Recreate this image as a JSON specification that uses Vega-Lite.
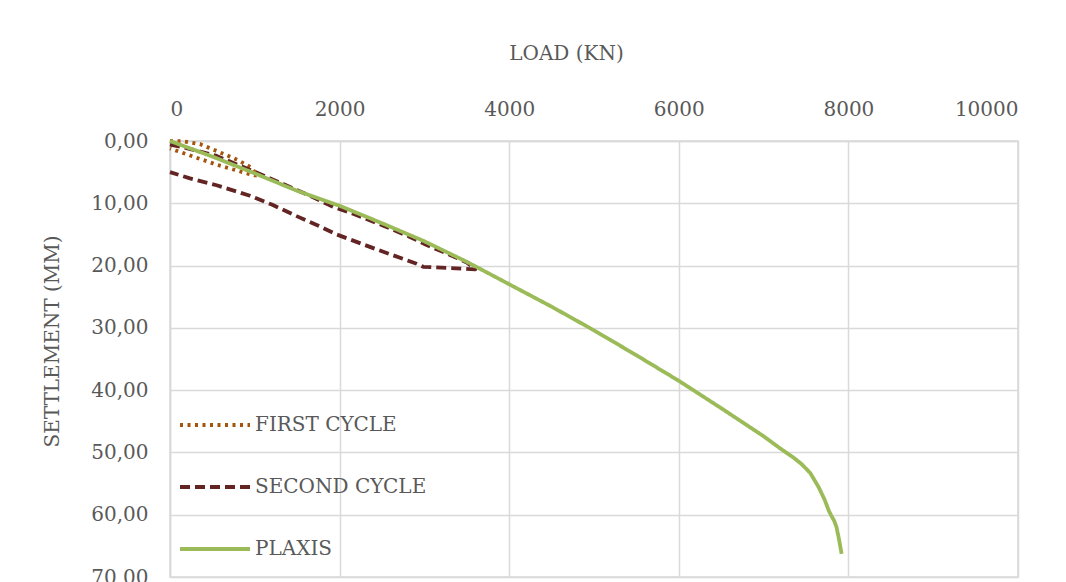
{
  "$schema": "https://vega.github.io/schema/vega-lite/v6.json",
  "width": 848,
  "height": 436,
  "autosize": {"type": "none"},
  "padding": {"left": 170, "top": 141, "right": 48, "bottom": 5},
  "background": "white",
  "config": {
    "font": "DejaVu Serif",
    "view": {"stroke": "#d9d9d9", "strokeWidth": 1.5},
    "axis": {
      "grid": true,
      "gridColor": "#d9d9d9",
      "gridWidth": 1.5,
      "domainColor": "#d9d9d9",
      "domainWidth": 1.5,
      "ticks": false,
      "tickSize": 0,
      "labelFont": "DejaVu Serif",
      "labelFontSize": 20,
      "labelColor": "#595959",
      "titleFont": "DejaVu Serif",
      "titleFontSize": 20,
      "titleFontWeight": "normal",
      "titleColor": "#595959"
    }
  },
  "data": {
    "values": [
      {"series": "FIRST CYCLE", "i": 1, "load": 0, "settlement": 0},
      {"series": "FIRST CYCLE", "i": 2, "load": 160, "settlement": 0.05},
      {"series": "FIRST CYCLE", "i": 3, "load": 354, "settlement": 0.5},
      {"series": "FIRST CYCLE", "i": 4, "load": 550, "settlement": 1.6},
      {"series": "FIRST CYCLE", "i": 5, "load": 806, "settlement": 3.1},
      {"series": "FIRST CYCLE", "i": 6, "load": 963, "settlement": 4.3},
      {"series": "FIRST CYCLE", "i": 7, "load": 1030, "settlement": 5.6},
      {"series": "FIRST CYCLE", "i": 8, "load": 904, "settlement": 5.2},
      {"series": "FIRST CYCLE", "i": 9, "load": 550, "settlement": 3.8},
      {"series": "FIRST CYCLE", "i": 10, "load": 275, "settlement": 2.5},
      {"series": "FIRST CYCLE", "i": 11, "load": 20, "settlement": 1.3},
      {"series": "FIRST CYCLE", "i": 12, "load": 0, "settlement": 1.2},

      {"series": "SECOND CYCLE", "i": 1, "load": 0, "settlement": 0.6},
      {"series": "SECOND CYCLE", "i": 2, "load": 157, "settlement": 1.0},
      {"series": "SECOND CYCLE", "i": 3, "load": 550, "settlement": 2.4},
      {"series": "SECOND CYCLE", "i": 4, "load": 1061, "settlement": 5.3},
      {"series": "SECOND CYCLE", "i": 5, "load": 1336, "settlement": 6.9},
      {"series": "SECOND CYCLE", "i": 6, "load": 1651, "settlement": 8.8},
      {"series": "SECOND CYCLE", "i": 7, "load": 1926, "settlement": 10.6},
      {"series": "SECOND CYCLE", "i": 8, "load": 2123, "settlement": 11.5},
      {"series": "SECOND CYCLE", "i": 9, "load": 2516, "settlement": 13.6},
      {"series": "SECOND CYCLE", "i": 10, "load": 2830, "settlement": 15.4},
      {"series": "SECOND CYCLE", "i": 11, "load": 3027, "settlement": 16.7},
      {"series": "SECOND CYCLE", "i": 12, "load": 3302, "settlement": 18.3},
      {"series": "SECOND CYCLE", "i": 13, "load": 3500, "settlement": 19.5},
      {"series": "SECOND CYCLE", "i": 14, "load": 3600, "settlement": 20.6},
      {"series": "SECOND CYCLE", "i": 15, "load": 3302, "settlement": 20.4},
      {"series": "SECOND CYCLE", "i": 16, "load": 2987, "settlement": 20.2},
      {"series": "SECOND CYCLE", "i": 17, "load": 2909, "settlement": 19.7},
      {"series": "SECOND CYCLE", "i": 18, "load": 2437, "settlement": 17.4},
      {"series": "SECOND CYCLE", "i": 19, "load": 1965, "settlement": 15.0},
      {"series": "SECOND CYCLE", "i": 20, "load": 1750, "settlement": 13.6},
      {"series": "SECOND CYCLE", "i": 21, "load": 1500, "settlement": 12.1},
      {"series": "SECOND CYCLE", "i": 22, "load": 1200, "settlement": 10.2},
      {"series": "SECOND CYCLE", "i": 23, "load": 943, "settlement": 8.8},
      {"series": "SECOND CYCLE", "i": 24, "load": 550, "settlement": 7.1},
      {"series": "SECOND CYCLE", "i": 25, "load": 236, "settlement": 6.0},
      {"series": "SECOND CYCLE", "i": 26, "load": 0, "settlement": 5.0},

      {"series": "PLAXIS", "i": 1, "load": 0, "settlement": 0},
      {"series": "PLAXIS", "i": 2, "load": 500, "settlement": 2.5},
      {"series": "PLAXIS", "i": 3, "load": 1000, "settlement": 5.2},
      {"series": "PLAXIS", "i": 4, "load": 1500, "settlement": 8.0},
      {"series": "PLAXIS", "i": 5, "load": 2000, "settlement": 10.4},
      {"series": "PLAXIS", "i": 6, "load": 2500, "settlement": 13.2},
      {"series": "PLAXIS", "i": 7, "load": 3000, "settlement": 16.1},
      {"series": "PLAXIS", "i": 8, "load": 3500, "settlement": 19.4},
      {"series": "PLAXIS", "i": 9, "load": 4000, "settlement": 23.0},
      {"series": "PLAXIS", "i": 10, "load": 4500, "settlement": 26.6},
      {"series": "PLAXIS", "i": 11, "load": 5000, "settlement": 30.4},
      {"series": "PLAXIS", "i": 12, "load": 5500, "settlement": 34.4},
      {"series": "PLAXIS", "i": 13, "load": 6000, "settlement": 38.5},
      {"series": "PLAXIS", "i": 14, "load": 6500, "settlement": 42.9},
      {"series": "PLAXIS", "i": 15, "load": 7000, "settlement": 47.4},
      {"series": "PLAXIS", "i": 16, "load": 7200, "settlement": 49.4},
      {"series": "PLAXIS", "i": 17, "load": 7350, "settlement": 50.8},
      {"series": "PLAXIS", "i": 18, "load": 7450, "settlement": 51.9},
      {"series": "PLAXIS", "i": 19, "load": 7550, "settlement": 53.3},
      {"series": "PLAXIS", "i": 20, "load": 7650, "settlement": 55.6},
      {"series": "PLAXIS", "i": 21, "load": 7720, "settlement": 57.6},
      {"series": "PLAXIS", "i": 22, "load": 7770, "settlement": 59.4},
      {"series": "PLAXIS", "i": 23, "load": 7800, "settlement": 60.2},
      {"series": "PLAXIS", "i": 24, "load": 7830, "settlement": 60.9},
      {"series": "PLAXIS", "i": 25, "load": 7860, "settlement": 62.0},
      {"series": "PLAXIS", "i": 26, "load": 7890, "settlement": 64.0},
      {"series": "PLAXIS", "i": 27, "load": 7920, "settlement": 66.3}
    ]
  },
  "mark": {"type": "line", "strokeWidth": 3.8, "strokeJoin": "round"},
  "encoding": {
    "x": {
      "field": "load",
      "type": "quantitative",
      "scale": {"domain": [0, 10000], "nice": false},
      "axis": {
        "orient": "top",
        "values": [0, 2000, 4000, 6000, 8000, 10000],
        "format": "d",
        "labelPadding": 22,
        "title": "LOAD (KN)",
        "titleAnchor": "start",
        "titleAlign": "center",
        "titleBaseline": "middle",
        "titleX": 396,
        "titleY": -88
      }
    },
    "y": {
      "field": "settlement",
      "type": "quantitative",
      "scale": {"domain": [0, 70], "reverse": true, "nice": false},
      "axis": {
        "values": [0, 10, 20, 30, 40, 50, 60, 70],
        "labelExpr": "replace(format(datum.value, '.2f'), '.', ',')",
        "labelPadding": 22,
        "title": "SETTLEMENT (MM)",
        "titleAnchor": "start",
        "titleAlign": "center",
        "titleBaseline": "middle",
        "titleX": -118,
        "titleY": 200
      }
    },
    "order": {"field": "i", "type": "quantitative"},
    "color": {
      "field": "series",
      "type": "nominal",
      "scale": {
        "domain": ["FIRST CYCLE", "SECOND CYCLE", "PLAXIS"],
        "range": ["#A4540C", "#632523", "#9BBB59"]
      },
      "legend": {
        "title": null,
        "orient": "none",
        "legendX": 8,
        "legendY": 247,
        "direction": "vertical",
        "symbolType": "stroke",
        "symbolSize": 4900,
        "symbolStrokeWidth": 3.8,
        "rowPadding": 15,
        "labelOffset": 3,
        "labelLimit": 400,
        "labelFont": "DejaVu Serif",
        "labelFontSize": 20,
        "labelColor": "#595959",
        "padding": 0
      }
    },
    "strokeDash": {
      "field": "series",
      "type": "nominal",
      "scale": {
        "domain": ["FIRST CYCLE", "SECOND CYCLE", "PLAXIS"],
        "range": [[3, 4.5], [10, 5], [1, 0]]
      },
      "legend": null
    }
  }
}
